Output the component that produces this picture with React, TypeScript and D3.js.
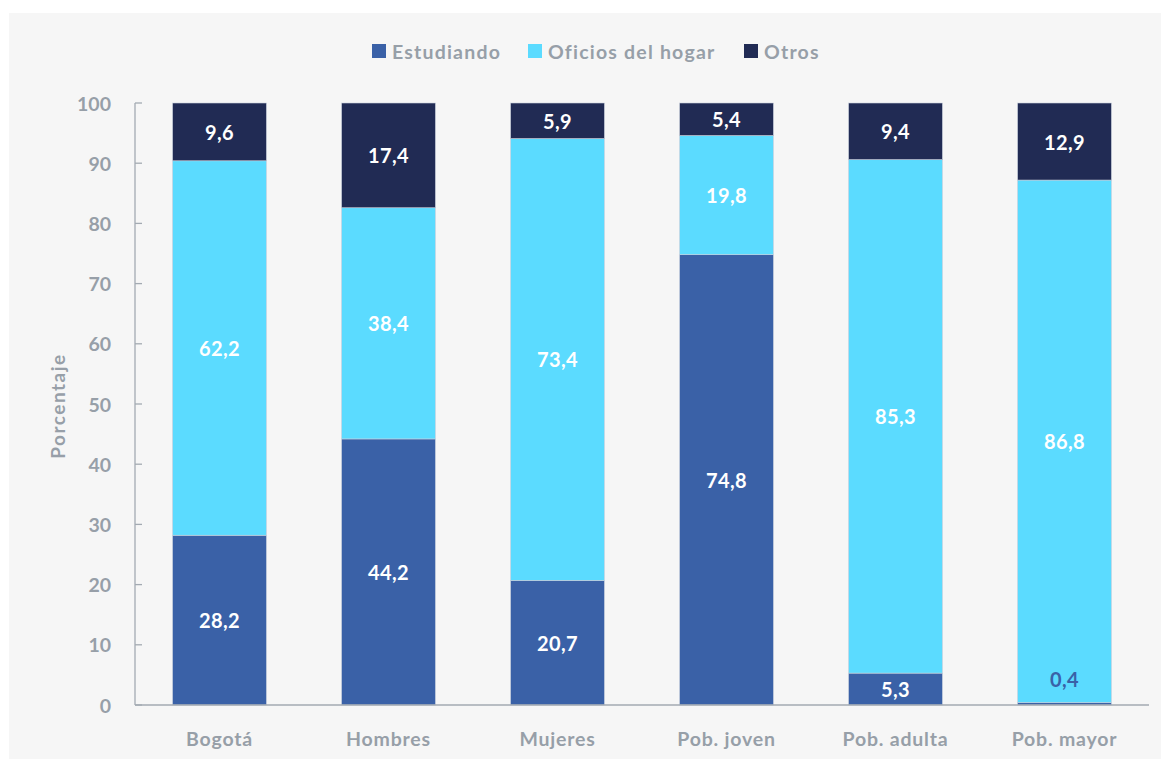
import React from "react";
import * as d3 from "d3";

const categories = ["Bogotá", "Hombres", "Mujeres", "Pob. joven", "Pob. adulta", "Pob. mayor"];
const seriesNames = ["Estudiando", "Oficios del hogar", "Otros"];
const estudiando = [28.2, 44.2, 20.7, 74.8, 5.3, 0.4];
const oficios = [62.2, 38.4, 73.4, 19.8, 85.3, 86.8];
const otros = [9.6, 17.4, 5.9, 5.4, 9.4, 12.9];
const yTicks = [0, 10, 20, 30, 40, 50, 60, 70, 80, 90, 100];
const colors = ["#3a61a7", "#5bdbff", "#212b54"];

const W = 1161;
const H = 759;
const FONT = "Lato, 'Open Sans', sans-serif";
const GRAY = "#979fa8";

const fmt = (v: number) => v.toFixed(1).replace(".", ",");

export default function App() {
  const x = d3.scaleBand<string>().domain(categories).range([135, 1149]).paddingInner(0.445).paddingOuter(0.2225);
  const y = d3.scaleLinear().domain([0, 100]).range([705, 103]);

  const rows = categories.map((c, i) => ({ cat: c, Estudiando: estudiando[i], "Oficios del hogar": oficios[i], Otros: otros[i] }));
  const stack = d3.stack<any>().keys(seriesNames)(rows);

  const legendX = [372, 528, 744];

  return (
    <svg width={W} height={H} style={{ position: "absolute", left: 0, top: 0 }} fontFamily={FONT}>
      <rect x={0} y={0} width={W} height={H} fill="#ffffff" />
      <rect x={9} y={13} width={W - 9} height={H - 13} fill="#f6f6f6" />

      {/* legend */}
      {seriesNames.map((s, i) => (
        <g key={s}>
          <rect x={legendX[i]} y={44} width={14} height={14} fill={colors[i]} />
          <text x={legendX[i] + 20} y={51} dominantBaseline="central" fontSize={19.5} fontWeight={700} letterSpacing={1.2} fill={GRAY}>
            {s}
          </text>
        </g>
      ))}

      {/* bars */}
      {stack.map((layer, si) => (
        <g key={seriesNames[si]}>
          {layer.map((d, i) => {
            const y0 = y(d[0]);
            const y1 = y(Math.min(d[1], 100));
            return (
              <rect
                key={i}
                x={x(categories[i])!}
                y={y1}
                width={x.bandwidth()}
                height={Math.max(0, y0 - y1)}
                fill={colors[si]}
                stroke="#c9d0dc"
                strokeWidth={0.6}
              />
            );
          })}
        </g>
      ))}

      {/* value labels */}
      {stack.map((layer, si) =>
        layer.map((d, i) => {
          const v = (d.data as any)[seriesNames[si]] as number;
          const cx = x(categories[i])! + x.bandwidth() / 2;
          const small = v < 2;
          const cy = small ? y(d[1]) - 24 : (y(d[0]) + y(Math.min(d[1], 100))) / 2;
          return (
            <text
              key={`${si}-${i}`}
              x={cx}
              y={cy}
              textAnchor="middle"
              dominantBaseline="central"
              fontSize={20}
              fontWeight={700}
              letterSpacing={0.4}
              fill={small ? colors[0] : "#ffffff"}
            >
              {fmt(v)}
            </text>
          );
        })
      )}

      {/* y axis */}
      <line x1={135} x2={135} y1={y(100)} y2={y(0)} stroke="#a3aab2" strokeWidth={1.3} />
      {yTicks.map((t) => (
        <g key={t}>
          <line x1={135} x2={142} y1={y(t)} y2={y(t)} stroke="#a3aab2" strokeWidth={1.3} />
          <text x={111} y={y(t)} textAnchor="end" dominantBaseline="central" fontSize={19.5} fontWeight={700} fill={GRAY}>
            {t}
          </text>
        </g>
      ))}
      <text
        transform={`translate(57, 406) rotate(-90)`}
        textAnchor="middle"
        dominantBaseline="central"
        fontSize={19}
        fontWeight={700}
        letterSpacing={1.5}
        fill={GRAY}
      >
        Porcentaje
      </text>

      {/* x axis */}
      <line x1={135} x2={1149} y1={y(0)} y2={y(0)} stroke="#a3aab2" strokeWidth={1.5} />
      {categories.map((c) => (
        <text
          key={c}
          x={x(c)! + x.bandwidth() / 2}
          y={738}
          textAnchor="middle"
          dominantBaseline="central"
          fontSize={19.5}
          fontWeight={700}
          letterSpacing={0.8}
          fill={GRAY}
        >
          {c}
        </text>
      ))}
    </svg>
  );
}
